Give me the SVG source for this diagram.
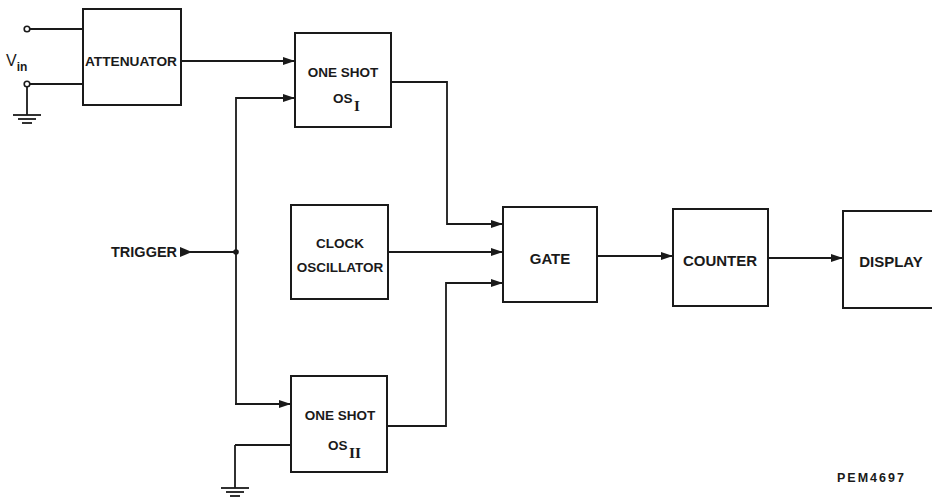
<svg xmlns="http://www.w3.org/2000/svg" width="932" height="497" viewBox="0 0 932 497">
<style>
.box{fill:none;stroke:#1a1a1a;stroke-width:2}
.ln{fill:none;stroke:#1a1a1a;stroke-width:1.8}
.t{font-family:"Liberation Sans",Arial,sans-serif;font-weight:bold;font-size:13.5px;fill:#1a1a1a}
.tl{font-size:15px}
.sub{font-family:"Liberation Serif",serif;font-weight:bold;font-size:15px;fill:#1a1a1a}
</style>
<defs>
<marker id="ar" markerWidth="12" markerHeight="8" refX="12" refY="4" orient="auto" markerUnits="userSpaceOnUse">
<path d="M0,0 L12,4 L0,8 Z" fill="#1a1a1a"/>
</marker>
</defs>
<rect width="932" height="497" fill="#fff"/>
<g id="input">
<circle cx="27" cy="29" r="2.8" fill="#fff" stroke="#1a1a1a" stroke-width="1.6"/>
<circle cx="27" cy="84" r="2.8" fill="#fff" stroke="#1a1a1a" stroke-width="1.6"/>
<text x="6" y="66" class="t" style="font-weight:normal;font-size:16px">V<tspan dy="5" font-size="12" font-weight="bold">in</tspan></text>
</g>
<g id="ground1">
<line x1="27" y1="87" x2="27" y2="115" class="ln"/>
<line x1="13" y1="115" x2="41" y2="115" class="ln"/>
<line x1="18" y1="119" x2="36" y2="119" class="ln"/>
<line x1="22" y1="123" x2="32" y2="123" class="ln"/>
</g>
<g id="attenuator">
<rect x="83" y="9" width="98" height="96" class="box"/>
<text x="131" y="66" class="t" text-anchor="middle" textLength="92" lengthAdjust="spacingAndGlyphs">ATTENUATOR</text>
</g>
<g id="oneshot1">
<rect x="295" y="33" width="96" height="94" class="box"/>
<text x="343" y="77" class="t" text-anchor="middle">ONE SHOT</text>
<text x="333" y="103" class="t">OS</text>
<text x="357" y="111" class="sub" text-anchor="middle">I</text>
</g>
<g id="clock">
<rect x="291" y="205" width="97" height="94" class="box"/>
<text x="340" y="248" class="t" text-anchor="middle">CLOCK</text>
<text x="340" y="272" class="t" text-anchor="middle">OSCILLATOR</text>
</g>
<g id="oneshot2">
<rect x="291" y="376" width="96" height="96" class="box"/>
<text x="340" y="420" class="t" text-anchor="middle">ONE SHOT</text>
<text x="328" y="450" class="t">OS</text>
<text x="355" y="458" class="sub" text-anchor="middle" textLength="12" lengthAdjust="spacingAndGlyphs">II</text>
</g>
<g id="ground2">
<line x1="235" y1="445" x2="235" y2="488" class="ln"/>
<line x1="221" y1="488" x2="249" y2="488" class="ln"/>
<line x1="226" y1="492" x2="244" y2="492" class="ln"/>
<line x1="230" y1="496" x2="240" y2="496" class="ln"/>
</g>
<g id="gate">
<rect x="503" y="207" width="94" height="95" class="box"/>
<text x="550" y="264" class="t tl" text-anchor="middle">GATE</text>
</g>
<g id="counter">
<rect x="673" y="209" width="95" height="97" class="box"/>
<text x="720" y="266" class="t tl" text-anchor="middle">COUNTER</text>
</g>
<g id="display">
<rect x="843" y="211" width="95" height="97" class="box"/>
<text x="891" y="267" class="t tl" text-anchor="middle">DISPLAY</text>
</g>
<g id="trigger">
<text x="111" y="257" class="t" style="font-size:14.5px">TRIGGER</text>
</g>
<g id="connectors">
<line x1="30" y1="29" x2="83" y2="29" class="ln"/>
<line x1="30" y1="84" x2="83" y2="84" class="ln"/>
<line x1="181" y1="61" x2="295" y2="61" class="ln" marker-end="url(#ar)"/>
<path d="M236,404 V98 H295" class="ln" marker-end="url(#ar)"/>
<path d="M180,247 L192,252 L180,257 Z" fill="#1a1a1a"/>
<line x1="190" y1="252" x2="236" y2="252" class="ln"/>
<circle cx="236" cy="252" r="2.8" fill="#1a1a1a"/>
<path d="M235,404 H291" class="ln" marker-end="url(#ar)"/>
<path d="M291,445 H235" class="ln"/>
<path d="M391,82 H447 V224 H503" class="ln" marker-end="url(#ar)"/>
<path d="M388,252 H503" class="ln" marker-end="url(#ar)"/>
<path d="M387,426 H446 V283 H503" class="ln" marker-end="url(#ar)"/>
<path d="M597,256 H673" class="ln" marker-end="url(#ar)"/>
<path d="M768,258 H843" class="ln" marker-end="url(#ar)"/>
</g>
<text x="837" y="482" class="t" style="font-size:12.5px;letter-spacing:2px">PEM4697</text>
</svg>
